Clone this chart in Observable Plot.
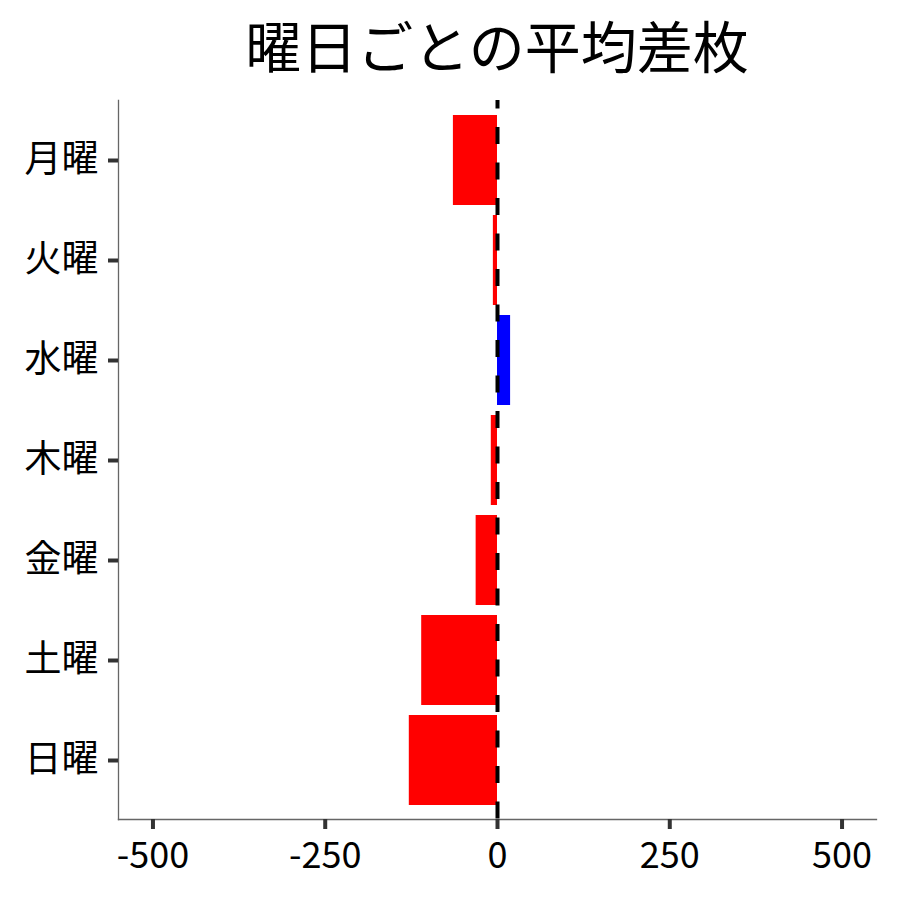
<!DOCTYPE html>
<html>
<head>
<meta charset="utf-8">
<script src="https://cdn.jsdelivr.net/npm/d3@7"></script>
<script src="https://cdn.jsdelivr.net/npm/@observablehq/plot@0.6"></script>
<style>
  html, body { margin: 0; padding: 0; background: #fff; }
  #title {
    margin-left: 118px; width: 758px; height: 96px; line-height: 88px;
    text-align: center; font-family: "Noto Sans CJK JP", sans-serif;
    font-size: 56px; color: #000; white-space: nowrap;
  }
  #chart svg [aria-label$="axis tick"], #chart svg [aria-label$="axis tick"] * { stroke-width: 4px !important; }
</style>
</head>
<body>
<div id="title">曜日ごとの平均差枚</div>
<div id="chart"></div>
<script>
const days = ["月曜", "火曜", "水曜", "木曜", "金曜", "土曜", "日曜"];
const values = [-64, -6, 19, -9, -31, -110, -128];
const xTicks = [-500, -250, 0, 250, 500];

const data = days.map((d, i) => ({day: d, value: values[i]}));

const chart = Plot.plot({
  width: 900,
  height: 804,
  marginTop: 4,
  marginBottom: 81,
  marginLeft: 118,
  marginRight: 24,
  style: {fontFamily: "'Noto Sans CJK JP', sans-serif", background: "#fff", color: "#000"},
  x: {domain: [-550, 550]},
  y: {domain: days, paddingInner: 0.1, paddingOuter: 0.05, insetTop: 10, insetBottom: 9},
  marks: [
    Plot.barX(data, {x: "value", y: "day", fill: d => d.value > 0 ? "#0000FF" : "#FF0000"}),
    Plot.ruleX([0], {stroke: "#000", strokeWidth: 4, strokeDasharray: "17,18.5", strokeDashoffset: 8.5}),
    Plot.frame({anchor: "left", stroke: "#666", strokeWidth: 1.3}),
    Plot.frame({anchor: "bottom", stroke: "#666", strokeWidth: 1.3}),
    Plot.axisX({ticks: xTicks, tickFormat: d => String(d), tickSize: 10, tickPadding: 13, fontSize: 36, stroke: "#333", strokeWidth: 4, fill: "#000", label: null}),
    Plot.axisY({tickSize: 10, tickPadding: 10, fontSize: 37, stroke: "#333", strokeWidth: 4, fill: "#000", label: null})
  ]
});
document.getElementById("chart").appendChild(chart);
</script>
</body>
</html>
